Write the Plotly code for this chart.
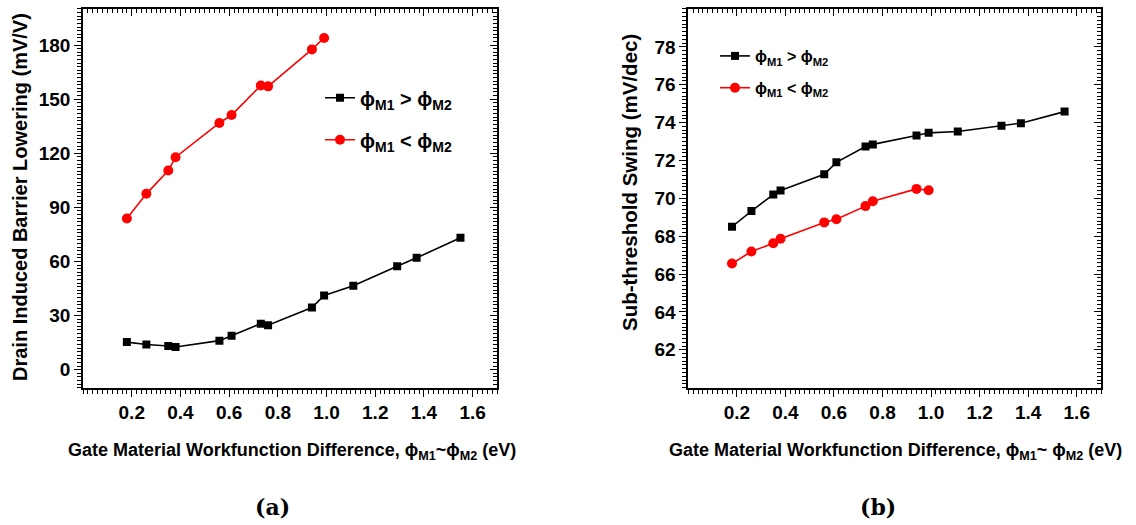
import plotly.graph_objects as go

# Workfunction difference (eV)
x_gt = [0.18, 0.26, 0.35, 0.38, 0.56, 0.61, 0.73, 0.76, 0.94, 0.99, 1.11, 1.29, 1.37, 1.55]
x_lt = [0.18, 0.26, 0.35, 0.38, 0.56, 0.61, 0.73, 0.76, 0.94, 0.99]

# DIBL (mV/V)
dibl_gt = [15.3, 14.0, 13.1, 12.6, 16.1, 18.8, 25.5, 24.7, 34.5, 41.2, 46.5, 57.4, 62.0, 73.1]
dibl_lt = [83.8, 97.5, 110.4, 117.8, 136.8, 141.2, 157.6, 157.1, 177.6, 183.9]

# Sub-threshold swing (mV/dec)
ss_gt = [68.50, 69.33, 70.20, 70.41, 71.27, 71.90, 72.74, 72.85, 73.32, 73.46, 73.53, 73.83, 73.97, 74.58]
ss_lt = [66.56, 67.19, 67.63, 67.87, 68.73, 68.90, 69.59, 69.85, 70.50, 70.43]

x_ticks = [0.2, 0.4, 0.6, 0.8, 1.0, 1.2, 1.4, 1.6]
dibl_ticks = [0, 30, 60, 90, 120, 150, 180]
ss_ticks = [62, 64, 66, 68, 70, 72, 74, 76, 78]

name_gt = "<b>ϕ<sub>M1</sub> > ϕ<sub>M2</sub></b>"
name_lt = "<b>ϕ<sub>M1</sub> < ϕ<sub>M2</sub></b>"

BLACK = "#000000"
RED = "#ff0000"
FONT = "Liberation Sans"

fig = go.Figure()

# Panel (a)
fig.add_trace(go.Scatter(x=x_gt, y=dibl_gt, mode="lines+markers", name=name_gt,
                         line=dict(color=BLACK, width=1.6),
                         marker=dict(symbol="square", size=8, color=BLACK),
                         xaxis="x", yaxis="y", legend="legend", legendgroup="a1"))
fig.add_trace(go.Scatter(x=x_lt, y=dibl_lt, mode="lines+markers", name=name_lt,
                         line=dict(color=RED, width=1.6),
                         marker=dict(symbol="circle", size=10, color=RED),
                         xaxis="x", yaxis="y", legend="legend", legendgroup="a2"))
# Panel (b)
fig.add_trace(go.Scatter(x=x_gt, y=ss_gt, mode="lines+markers", name=name_gt,
                         line=dict(color=BLACK, width=1.6),
                         marker=dict(symbol="square", size=8, color=BLACK),
                         xaxis="x2", yaxis="y2", legend="legend2", legendgroup="b1"))
fig.add_trace(go.Scatter(x=x_lt, y=ss_lt, mode="lines+markers", name=name_lt,
                         line=dict(color=RED, width=1.6),
                         marker=dict(symbol="circle", size=10, color=RED),
                         xaxis="x2", yaxis="y2", legend="legend2", legendgroup="b2"))

# Empty traces binding the mirrored (top/right) frame axes
for xa, ya in (("x3", "y3"), ("x4", "y4")):
    fig.add_trace(go.Scatter(x=[], y=[], xaxis=xa, yaxis=ya, showlegend=False, hoverinfo="skip"))

dom_a = [0.0731, 0.4375]
dom_b = [0.6059, 0.9692]
dom_y = [0.2615, 0.9829]
tickfont = dict(family=FONT, size=19, color=BLACK, weight="bold")

def xaxis_main(domain, anchor):
    return dict(domain=domain, anchor=anchor, range=[0, 1.7], tickmode="array",
                tickvals=x_ticks, ticktext=[f"{v:.1f}" for v in x_ticks],
                ticks="outside", ticklen=7, tickwidth=1.3, tickcolor=BLACK,
                showline=True, linecolor=BLACK, linewidth=1.8, showgrid=False,
                zeroline=False, tickfont=tickfont,
                minor=dict(dtick=0.02, tick0=0, ticks="outside", ticklen=4,
                           tickwidth=1, tickcolor=BLACK, showgrid=False))

def xaxis_top(over, anchor, domain):
    return dict(domain=domain, overlaying=over, anchor=anchor, side="top", range=[0, 1.7],
                tickmode="array", tickvals=x_ticks, showticklabels=False,
                ticks="inside", ticklen=7, tickwidth=1.3, tickcolor=BLACK,
                showline=True, linecolor=BLACK, linewidth=1.8, showgrid=False, zeroline=False,
                minor=dict(dtick=0.02, tick0=0, ticks="inside", ticklen=4,
                           tickwidth=1, tickcolor=BLACK, showgrid=False))

def yaxis_main(anchor, rng, vals, mdt):
    return dict(domain=dom_y, anchor=anchor, range=rng, tickmode="array", tickvals=vals,
                ticks="outside", ticklen=7, tickwidth=1.3, tickcolor=BLACK,
                showline=True, linecolor=BLACK, linewidth=1.8, showgrid=False,
                zeroline=False, tickfont=tickfont,
                minor=dict(dtick=mdt, tick0=0, ticks="outside", ticklen=4,
                           tickwidth=1, tickcolor=BLACK, showgrid=False))

def yaxis_right(over, anchor, rng, vals, mdt):
    return dict(domain=dom_y, overlaying=over, anchor=anchor, side="right", range=rng,
                tickmode="array", tickvals=vals, showticklabels=False,
                ticks="inside", ticklen=7, tickwidth=1.3, tickcolor=BLACK,
                showline=True, linecolor=BLACK, linewidth=1.8, showgrid=False, zeroline=False,
                minor=dict(dtick=mdt, tick0=0, ticks="inside", ticklen=4,
                           tickwidth=1, tickcolor=BLACK, showgrid=False))

fig.update_layout(
    width=1136, height=525,
    margin=dict(l=0, r=0, t=0, b=0),
    paper_bgcolor="white", plot_bgcolor="white",
    xaxis=xaxis_main(dom_a, "y"),
    yaxis=yaxis_main("x", [-10, 200], dibl_ticks, 2),
    xaxis2=xaxis_main(dom_b, "y2"),
    yaxis2=yaxis_main("x2", [60, 80], ss_ticks, 0.2),
    xaxis3=xaxis_top("x", "y3", dom_a),
    yaxis3=yaxis_right("y", "x3", [-10, 200], dibl_ticks, 2),
    xaxis4=xaxis_top("x2", "y4", dom_b),
    yaxis4=yaxis_right("y2", "x4", [60, 80], ss_ticks, 0.2),
    legend=dict(x=0.2817, y=0.851, xanchor="left", yanchor="top",
                bgcolor="rgba(0,0,0,0)", font=dict(family=FONT, size=20, color=BLACK),
                tracegroupgap=13, itemwidth=30),
    legend2=dict(x=0.6294, y=0.9257, xanchor="left", yanchor="top",
                 bgcolor="rgba(0,0,0,0)", font=dict(family=FONT, size=16, color=BLACK),
                 tracegroupgap=8, itemwidth=30),
)

# Axis titles and panel captions
title_font = dict(family=FONT, size=20, color=BLACK, weight="bold")
xtitle_font = dict(family="Liberation Sans Narrow, " + FONT, size=18, color=BLACK, weight="bold")
ann = [
    dict(text="Drain Induced Barrier Lowering (mV/V)", x=20 / 1136, y=1 - 197 / 525,
         textangle=-90, font=title_font),
    dict(text="Sub-threshold Swing (mV/dec)", x=630 / 1136, y=1 - 183 / 525,
         textangle=-90, font=dict(title_font, size=20.5)),
    dict(text="Gate Material Workfunction Difference, ϕ<sub>M1</sub>~ϕ<sub>M2</sub> (eV)",
         x=292 / 1136, y=1 - 451 / 525, font=xtitle_font),
    dict(text="Gate Material Workfunction Difference, ϕ<sub>M1</sub>~ ϕ<sub>M2</sub> (eV)",
         x=895 / 1136, y=1 - 451 / 525, font=xtitle_font),
    dict(text="(a)", x=272 / 1136, y=1 - 507 / 525,
         font=dict(family="DejaVu Serif", size=22, color=BLACK, weight="bold")),
    dict(text="(b)", x=878 / 1136, y=1 - 507 / 525,
         font=dict(family="DejaVu Serif", size=22, color=BLACK, weight="bold")),
]
for a in ann:
    a.update(xref="paper", yref="paper", showarrow=False, xanchor="center", yanchor="middle")
fig.update_layout(annotations=ann)

fig.write_html("out.html")
